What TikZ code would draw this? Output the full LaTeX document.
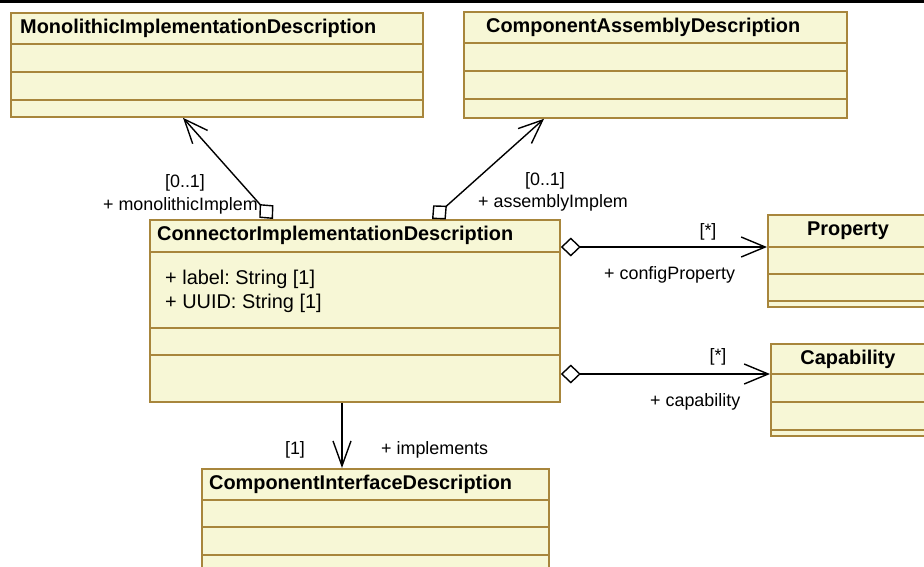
\documentclass[tikz,border=0pt]{standalone}
\usepackage{fontspec}
\setmainfont{Liberation Sans}
\usetikzlibrary{arrows.meta}
\definecolor{clsfill}{RGB}{247,247,214}
\definecolor{clsline}{RGB}{168,134,60}
\frenchspacing
\begin{document}
\begin{tikzpicture}[x=1pt,y=-1pt,
  cls/.style={draw=clsline,fill=clsfill,line width=1.8pt,rectangle,anchor=north west,inner sep=0pt},
  div/.style={draw=clsline,line width=1.5pt},
  title/.style={inner sep=0pt,anchor=base west,font=\bfseries\fontsize{19.9}{23}\selectfont},
  attr/.style={inner sep=0pt,anchor=base west,font=\fontsize{19.9}{23}\selectfont},
  lbl/.style={inner sep=0pt,anchor=base west,font=\fontsize{17.9}{21}\selectfont},
  agg/.style={line width=1.4pt,{Diamond[open,length=20pt,width=19pt]}-{Straight Barb[length=24pt,width=20pt]}},
  nav/.style={line width=1.4pt,-{Straight Barb[length=25pt,width=18pt]}}]
        \clip (0,0) rectangle (924,566);
        \draw[line width=3pt] (0,1.5) -- (924,1.5);
        \node[cls,minimum width=412pt,minimum height=104pt](mono) at (10,12) {};
        \draw[div] (10,44) -- (422,44);
        \draw[div] (10,72) -- (422,72);
        \draw[div] (10,100) -- (422,100);
        \node[title](monot) at (20,33) {MonolithicImplementationDescription};
        \node[cls,minimum width=383pt,minimum height=106pt](asm) at (463,11) {};
        \draw[div] (463,43) -- (846,43);
        \draw[div] (463,71) -- (846,71);
        \draw[div] (463,99) -- (846,99);
        \node[title](asmt) at (486,32) {ComponentAssemblyDescription};
        \node[cls,minimum width=410pt,minimum height=182pt](conn) at (149,219) {};
        \draw[div] (149,252) -- (559,252);
        \draw[div] (149,328) -- (559,328);
        \draw[div] (149,355) -- (559,355);
        \node[title](connt) at (157,240) {ConnectorImplementationDescription};
        \node[attr](lab) at (165,284) {+ label: String [1]};
        \node[attr](uuid) at (165,308) {+ UUID: String [1]};
        \node[cls,minimum width=170pt,minimum height=92pt](prop) at (767,214) {};
        \draw[div] (767,247) -- (937,247);
        \draw[div] (767,274) -- (937,274);
        \draw[div] (767,301) -- (937,301);
        \node[title,anchor=base](propt) at (848,235) {Property};
        \node[cls,minimum width=170pt,minimum height=92pt](cap) at (770,343) {};
        \draw[div] (770,374) -- (940,374);
        \draw[div] (770,402) -- (940,402);
        \draw[div] (770,430) -- (940,430);
        \node[title,anchor=base](capt) at (848,364) {Capability};
        \node[cls,minimum width=347pt,minimum height=110pt](iface) at (201,468) {};
        \draw[div] (201,500) -- (548,500);
        \draw[div] (201,527) -- (548,527);
        \draw[div] (201,555) -- (548,555);
        \node[title](ifacet) at (209,489) {ComponentInterfaceDescription};
        \draw[agg] ([xshift=124pt]conn.north west) -- ([xshift=173pt]mono.south west);
        \draw[agg] ([xshift=283pt]conn.north west) -- ([xshift=81pt]asm.south west);
        \draw[agg] ([yshift=-28pt]conn.north east) -- ([yshift=-33pt]prop.north west);
        \draw[agg] ([yshift=-155pt]conn.north east) -- ([yshift=-31pt]cap.north west);
        \draw[nav] ([xshift=193pt]conn.south west) -- ([xshift=141pt]iface.north west);
        \node[lbl,anchor=base](m1) at (185,187) {[0..1]};
        \node[lbl,anchor=base east](m2) at (258,210) {+ monolithicImplem};
        \node[lbl,anchor=base](a1) at (545,185) {[0..1]};
        \node[lbl](a2) at (478,207) {+ assemblyImplem};
        \node[lbl,anchor=base](p1) at (708,236) {[*]};
        \node[lbl](p2) at (604,279) {+ configProperty};
        \node[lbl,anchor=base](c1) at (718,361) {[*]};
        \node[lbl](c2) at (650,406) {+ capability};
        \node[lbl,anchor=base](i1) at (295,454) {[1]};
        \node[lbl](i2) at (381,454) {+ implements};
        \end{tikzpicture}
\end{document}
